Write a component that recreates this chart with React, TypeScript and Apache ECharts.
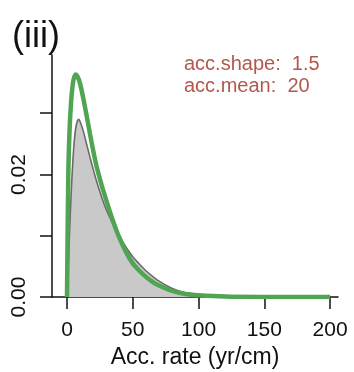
import React, { useEffect, useRef } from "react";
import * as echarts from "echarts";

// Acc. rate (yr/cm) values
const priorX = [0, 1, 2, 3, 4, 5, 6.5, 8, 10, 12.5, 15, 17.5, 20, 22.5, 25, 27.5, 30, 32.5, 35, 37.5, 40, 45, 50, 55, 60, 65, 70, 80, 90, 100, 120, 150, 200];
// green curve (prior density)
const priorY = [0, 0.020, 0.0275, 0.0315, 0.034, 0.0355, 0.0363, 0.0360, 0.0348, 0.0323, 0.0295, 0.0266, 0.0238, 0.0213, 0.0193, 0.0174, 0.0157, 0.0140, 0.0124, 0.0109, 0.0096, 0.0073, 0.0055, 0.0043, 0.0033, 0.0025, 0.0019, 0.0010, 0.0005, 0.0003, 0.0001, 0.00003, 0];

const postX = [0, 1, 2, 3, 4, 5, 6, 7, 8, 9, 10, 12.5, 15, 17.5, 20, 22.5, 25, 27.5, 30, 32.5, 35, 37.5, 40, 45, 50, 55, 60, 65, 70, 80, 90, 100, 110, 120, 150, 200];
// grey filled curve (posterior density)
const postY = [0, 0.005, 0.011, 0.016, 0.0205, 0.024, 0.0265, 0.028, 0.0288, 0.029, 0.0286, 0.0270, 0.0249, 0.0228, 0.0208, 0.0189, 0.0172, 0.0156, 0.0142, 0.0130, 0.0119, 0.0109, 0.0099, 0.0081, 0.0066, 0.0054, 0.0043, 0.0034, 0.0026, 0.0014, 0.0007, 0.0003, 0.00015, 0.00008, 0, 0];

const xTicks = [0, 50, 100, 150, 200];
const yTicks = [0, 0.01, 0.02, 0.03];
const yLabels = [0, 0.02];

const FONT = "'Liberation Sans', Arial, Helvetica, sans-serif";

export default function App() {
  const ref = useRef<HTMLDivElement>(null);
  useEffect(() => {
    if (!ref.current) return;
    const chart = echarts.init(ref.current, undefined, { renderer: "svg" });
    chart.setOption({
      animation: false,
      textStyle: { fontFamily: FONT },
      grid: { left: 52, right: 16, top: 55, bottom: 73, containLabel: false },
      xAxis: {
        type: "value",
        min: -11.4,
        max: 206,
        splitLine: { show: false },
        axisLine: { show: true, onZero: false, lineStyle: { color: "#111", width: 1.5 } },
        axisTick: { show: true, length: 12, customValues: xTicks, lineStyle: { color: "#111", width: 1.5 } },
        axisLabel: { customValues: xTicks, fontSize: 21, color: "#111", margin: 21, fontFamily: FONT },
        name: "Acc. rate (yr/cm)",
        nameLocation: "middle",
        nameGap: 44,
        nameTextStyle: { fontSize: 23, color: "#111", fontFamily: FONT },
      },
      yAxis: {
        type: "value",
        min: 0,
        max: 0.0395,
        splitLine: { show: false },
        axisLine: { show: true, onZero: false, lineStyle: { color: "#111", width: 1.5 } },
        axisTick: { show: true, length: 12, customValues: yTicks, lineStyle: { color: "#111", width: 1.5 } },
        axisLabel: {
          customValues: yLabels,
          rotate: 90,
          fontSize: 21,
          color: "#111",
          margin: 24,
          fontFamily: FONT,
          formatter: (v: number) => v.toFixed(2),
        },
      },
      graphic: [
        {
          type: "text",
          x: 12,
          y: 34,
          style: { text: "(iii)", fontSize: 36, fill: "#111", fontFamily: FONT, verticalAlign: "middle" },
        },
        {
          type: "text",
          x: 184,
          y: 63,
          style: { text: "acc.shape:  1.5", fontSize: 20, fill: "#b4574e", fontFamily: FONT, verticalAlign: "middle" },
        },
        {
          type: "text",
          x: 184,
          y: 85,
          style: { text: "acc.mean:  20", fontSize: 20, fill: "#b4574e", fontFamily: FONT, verticalAlign: "middle" },
        },
      ],
      series: [
        {
          type: "line",
          data: postX.map((x, i) => [x, postY[i]]),
          smooth: 0.3,
          showSymbol: false,
          lineStyle: { color: "#6a6a6a", width: 1.6 },
          areaStyle: { color: "#c9c9c9", opacity: 1 },
          z: 2,
        },
        {
          type: "line",
          data: priorX.map((x, i) => [x, priorY[i]]),
          smooth: 0.3,
          showSymbol: false,
          lineStyle: { color: "#4fa552", width: 4.5 },
          z: 3,
        },
      ],
    });
    return () => chart.dispose();
  }, []);
  return <div ref={ref} style={{ position: "fixed", left: 0, top: 0, width: 354, height: 372 }} />;
}
